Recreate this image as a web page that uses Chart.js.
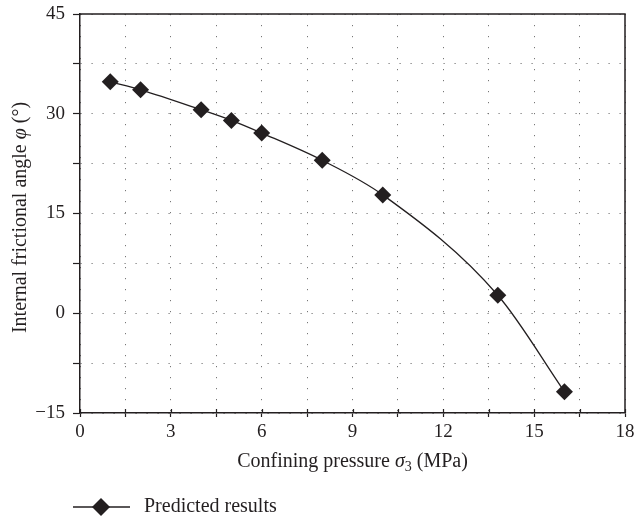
<!DOCTYPE html>
<html><head><meta charset="utf-8">
<script src="https://cdn.jsdelivr.net/npm/chart.js@4/dist/chart.umd.min.js"></script>
<style>html,body{margin:0;padding:0;background:#fff;overflow:hidden}</style>
</head><body>
<canvas id="c" width="634" height="520"></canvas>
<script>
// ---- data ----
const pressure = [1, 2, 4, 5, 6, 8, 10, 13.8, 16];
const frictionAngle = [34.8, 33.6, 30.6, 29.0, 27.1, 23.0, 17.8, 2.7, -11.8];
const xTickValues = [0, 3, 6, 9, 12, 15, 18];
const xTickLabels = ['0', '3', '6', '9', '12', '15', '18'];
const yTickValues = [-15, 0, 15, 30, 45];
const yTickLabels = ['\u221215', '0', '15', '30', '45'];
const seriesName = 'Predicted results';
const xTitleParts = [['Confining pressure ', 'n'], ['\u03c3', 'i'], ['3', 's'], [' (MPa)', 'n']];
const yTitleParts = [['Internal frictional angle ', 'n'], ['\u03c6', 'i'], [' (\u00b0)', 'n']];

const INK = '#231f20';
const FONT = '"Liberation Serif", "DejaVu Serif", serif';
const FS = 20;

function partFont(style) {
  if (style === 'i') return 'italic ' + FS + 'px ' + FONT;
  if (style === 's') return Math.round(FS * 0.7) + 'px ' + FONT;
  return FS + 'px ' + FONT;
}
function partsWidth(ctx, parts) {
  let w = 0;
  for (const [t, s] of parts) { ctx.font = partFont(s); w += ctx.measureText(t).width; }
  return w;
}
function drawParts(ctx, parts, x, y) {
  ctx.textBaseline = 'alphabetic';
  ctx.textAlign = 'left';
  for (const [t, s] of parts) {
    ctx.font = partFont(s);
    ctx.fillText(t, x, s === 's' ? y + 4 : y);
    x += ctx.measureText(t).width;
  }
}

const decor = {
  id: 'decor',
  afterDraw(chart) {
    const ctx = chart.ctx;
    const a = chart.chartArea;
    const xs = chart.scales.x;
    ctx.save();
    // frame (top / right)
    ctx.strokeStyle = INK;
    ctx.lineWidth = 1.5;
    ctx.beginPath();
    ctx.moveTo(a.left, a.top); ctx.lineTo(a.right, a.top); ctx.lineTo(a.right, a.bottom);
    ctx.stroke();
    // inner part of x ticks
    ctx.lineWidth = 1.2;
    ctx.beginPath();
    for (const t of xs.ticks) {
      const px = Math.round(xs.getPixelForValue(t.value)) + 0.5;
      ctx.moveTo(px, a.bottom); ctx.lineTo(px, a.bottom - 4);
    }
    ctx.stroke();
    ctx.fillStyle = INK;
    // x title
    const xw = partsWidth(ctx, xTitleParts);
    drawParts(ctx, xTitleParts, (a.left + a.right) / 2 - xw / 2, 467);
    // y title
    const yw = partsWidth(ctx, yTitleParts);
    ctx.save();
    ctx.translate(26, (a.top + a.bottom) / 2 + 4);
    ctx.rotate(-Math.PI / 2);
    drawParts(ctx, yTitleParts, -yw / 2, 0);
    ctx.restore();
    // legend
    const ly = 507;
    ctx.strokeStyle = INK;
    ctx.lineWidth = 1.3;
    ctx.beginPath(); ctx.moveTo(73, ly); ctx.lineTo(130, ly); ctx.stroke();
    const r = 9;
    ctx.beginPath();
    ctx.moveTo(101, ly - r); ctx.lineTo(101 + r, ly); ctx.lineTo(101, ly + r); ctx.lineTo(101 - r, ly);
    ctx.closePath(); ctx.fill();
    ctx.font = FS + 'px ' + FONT;
    ctx.textBaseline = 'middle';
    ctx.textAlign = 'left';
    ctx.fillText(chart.data.datasets[0].label, 144, ly);
    ctx.restore();
  }
};

new Chart(document.getElementById('c'), {
  type: 'scatter',
  data: {
    datasets: [{
      label: seriesName,
      data: pressure.map((x, i) => ({ x: x, y: frictionAngle[i] })),
      showLine: true,
      borderColor: INK,
      borderWidth: 1.3,
      tension: 0.4,
      cubicInterpolationMode: 'monotone',
      pointStyle: 'rectRot',
      pointRadius: 8.5,
      pointBackgroundColor: INK,
      pointBorderColor: INK,
      pointBorderWidth: 0
    }]
  },
  options: {
    responsive: false,
    animation: false,
    devicePixelRatio: 1,
    layout: { padding: 0 },
    plugins: { legend: { display: false }, tooltip: { enabled: false } },
    scales: {
      x: {
        type: 'linear', min: 0, max: 18,
        afterFit(s) { s.height = 107; s.paddingRight = 9; s.paddingLeft = 0; },
        ticks: {
          stepSize: 1.5, autoSkip: false, maxRotation: 0, padding: 4,
          color: INK, font: { family: FONT, size: 19 },
          callback(v) { const i = xTickValues.indexOf(v); return i >= 0 ? xTickLabels[i] : ''; }
        },
        grid: { color: '#777', lineWidth: 1, tickLength: 4, tickColor: INK, tickWidth: 1.2 },
        border: { display: true, color: INK, width: 1.5, dash: [1.2, 9.8] }
      },
      y: {
        type: 'linear', min: -15, max: 45,
        afterFit(s) { s.width = 80; s.paddingTop = 14; s.paddingBottom = 0; },
        ticks: {
          stepSize: 7.5, autoSkip: false, padding: 8,
          color: INK, font: { family: FONT, size: 19 },
          callback(v) { const i = yTickValues.indexOf(v); return i >= 0 ? yTickLabels[i] : ''; }
        },
        grid: { color: '#777', lineWidth: 1, tickLength: 7, tickColor: INK, tickWidth: 1.2 },
        border: { display: true, color: INK, width: 1.5, dash: [1.2, 9.8] }
      }
    }
  },
  plugins: [decor]
});
</script>
</body></html>
